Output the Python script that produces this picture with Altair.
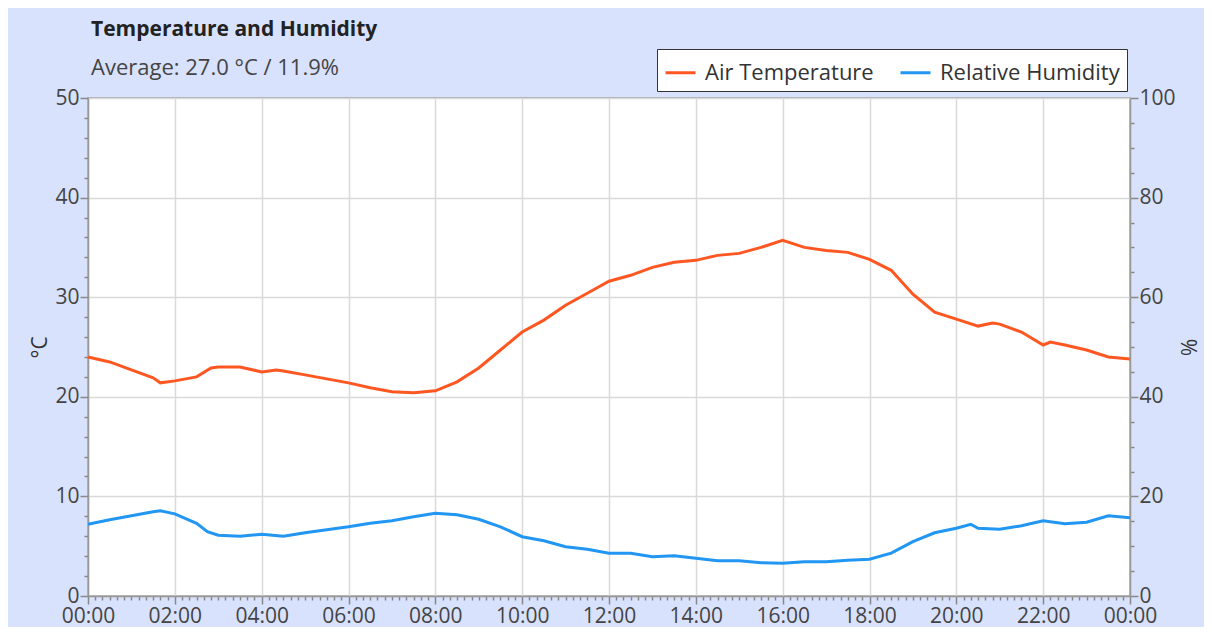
import altair as alt
import pandas as pd

# ---- data ----
temp_times = ["00:00", "00:30", "01:00", "01:30", "01:40", "02:00", "02:30", "02:50",
              "03:00", "03:30", "04:00", "04:20", "04:30", "05:00", "05:30", "06:00",
              "06:30", "07:00", "07:30", "08:00", "08:30", "09:00", "09:30", "10:00",
              "10:30", "11:00", "11:30", "12:00", "12:30", "13:00", "13:30", "14:00",
              "14:30", "15:00", "15:30", "16:00", "16:30", "17:00", "17:30", "18:00",
              "18:30", "19:00", "19:30", "20:00", "20:30", "20:50", "21:00", "21:30",
              "22:00", "22:10", "22:30", "23:00", "23:30", "24:00"]
temp_values = [24.0, 23.5, 22.7, 21.9, 21.4, 21.6, 22.0, 22.9,
               23.0, 23.0, 22.5, 22.7, 22.6, 22.2, 21.8, 21.4,
               20.9, 20.5, 20.4, 20.6, 21.5, 22.9, 24.7, 26.5,
               27.7, 29.2, 30.4, 31.6, 32.2, 33.0, 33.5, 33.7,
               34.2, 34.4, 35.0, 35.7, 35.0, 34.7, 34.5, 33.8,
               32.7, 30.3, 28.5, 27.8, 27.1, 27.4, 27.3, 26.5,
               25.2, 25.5, 25.2, 24.7, 24.0, 23.8]

hum_times = ["00:00", "00:30", "01:00", "01:30", "01:40", "02:00", "02:30", "02:45",
             "03:00", "03:30", "04:00", "04:30", "05:00", "05:30", "06:00", "06:30",
             "07:00", "07:30", "08:00", "08:30", "09:00", "09:30", "10:00", "10:30",
             "11:00", "11:30", "12:00", "12:30", "13:00", "13:30", "14:00", "14:30",
             "15:00", "15:30", "16:00", "16:30", "17:00", "17:30", "18:00", "18:30",
             "19:00", "19:30", "20:00", "20:20", "20:30", "21:00", "21:30", "22:00",
             "22:30", "23:00", "23:30", "24:00"]
hum_values = [14.4, 15.3, 16.1, 16.9, 17.1, 16.5, 14.6, 12.9,
              12.2, 12.0, 12.4, 12.0, 12.7, 13.3, 13.9, 14.6,
              15.1, 15.9, 16.6, 16.3, 15.4, 13.9, 11.9, 11.1,
              9.9, 9.4, 8.6, 8.6, 7.9, 8.1, 7.6, 7.1,
              7.1, 6.7, 6.6, 6.9, 6.9, 7.2, 7.4, 8.6,
              10.9, 12.7, 13.6, 14.4, 13.6, 13.4, 14.1, 15.1,
              14.5, 14.8, 16.1, 15.7]

series_names = ["Air Temperature", "Relative Humidity"]
series_colors = ["#ff5722", "#2196f3"]

title_text = "Temperature and Humidity"
subtitle_text = "Average: 27.0 °C / 11.9%"


def to_minutes(s):
    h, m = s.split(":")
    return int(h) * 60 + int(m)


df = pd.concat([
    pd.DataFrame({"minute": [to_minutes(t) for t in temp_times],
                  "value": temp_values, "series": series_names[0]}),
    pd.DataFrame({"minute": [to_minutes(t) for t in hum_times],
                  "value": hum_values, "series": series_names[1]}),
], ignore_index=True)

FONT = "Open Sans"
LABEL_COLOR = "#444444"
FS = 21


def cond(test, a, b):
    return {"condition": {"test": test, "value": a}, "value": b}


x_major = "datum.value % 120 == 0"
x_enc = alt.X(
    "minute:Q",
    scale=alt.Scale(domain=[0, 1440], nice=False, zero=False),
    axis=alt.Axis(
        values=list(range(0, 1441, 10)),
        labelExpr="datum.value % 120 == 0 ? ((floor(datum.value/60) % 24) < 10 ? '0' : '') + (floor(datum.value/60) % 24) + ':00' : ''",
        labelOverlap=False,
        labelFlush=False,
        labelBound=False,
        title=None,
        tickSize=cond(x_major, 8, 4),
        gridOpacity=cond(x_major, 1, 0),
        labelFontSize=FS,
        labelPadding=1,
    ),
)

color_enc = alt.Color(
    "series:N",
    scale=alt.Scale(domain=series_names, range=series_colors),
    legend=alt.Legend(
        title=None, orient="none", legendX=569, legendY=-49,
        direction="horizontal", symbolType="stroke", symbolSize=900,
        symbolStrokeWidth=3, fillColor="white", strokeColor="#333333",
        padding=7, labelFontSize=22, labelFont=FONT, labelColor="#333333",
        labelLimit=400, columnPadding=20, labelOffset=8, cornerRadius=0,
    ),
)

y_left_major = "datum.value % 10 == 0"
temp_layer = alt.Chart(df).transform_filter(
    alt.datum.series == series_names[0]
).mark_line(strokeWidth=3).encode(
    x=x_enc,
    y=alt.Y(
        "value:Q",
        scale=alt.Scale(domain=[0, 50], nice=False),
        axis=alt.Axis(
            orient="left", title="°C", values=list(range(0, 51, 2)),
            labelExpr="datum.value % 10 == 0 ? datum.value : ''",
            labelOverlap=False, labelFlush=False, labelBound=False,
            tickSize=cond(y_left_major, 8, 4),
            gridOpacity=cond(y_left_major, 1, 0),
            labelFontSize=FS, labelPadding=1, titlePadding=4,
        ),
    ),
    color=color_enc,
)

y_right_major = "datum.value % 20 == 0"
hum_layer = alt.Chart(df).transform_filter(
    alt.datum.series == series_names[1]
).mark_line(strokeWidth=3).encode(
    x=x_enc,
    y=alt.Y(
        "value:Q",
        scale=alt.Scale(domain=[0, 100], nice=False),
        axis=alt.Axis(
            orient="right", title="%", values=list(range(0, 101, 5)),
            labelExpr="datum.value % 20 == 0 ? datum.value : ''",
            labelOverlap=False, labelFlush=False, labelBound=False,
            tickSize=cond(y_right_major, 8, 4),
            grid=False,
            labelFontSize=FS, labelPadding=1, titlePadding=1,
        ),
    ),
    color=color_enc,
)

chart = alt.layer(temp_layer, hum_layer).resolve_scale(
    y="independent"
).properties(
    width=1042,
    height=498,
    padding={"left": 80, "top": 90, "right": 74, "bottom": 31},
    autosize=alt.AutoSizeParams(type="none"),
    background="#d9e2fd",
    title=alt.Title(
        text=title_text, subtitle=subtitle_text, anchor="start", frame="group",
        font=FONT, fontSize=21, fontWeight="bold", color="#222222",
        subtitleFont=FONT, subtitleFontSize=22, subtitleColor=LABEL_COLOR,
        subtitlePadding=18, offset=-30, dx=3,
    ),
).configure_view(
    fill="white", stroke="#999999", strokeWidth=1.5
).configure_axis(
    labelFont=FONT, labelColor=LABEL_COLOR, titleFont=FONT, titleColor="#333333",
    titleFontSize=FS, titleFontWeight="normal",
    domainColor="#999999", domainWidth=1.5, tickColor="#888888", tickWidth=1.5,
    gridColor="#d9d9d9", gridWidth=1.5,
)

chart.save("out.html", embed_options={"renderer": "svg", "actions": False})
